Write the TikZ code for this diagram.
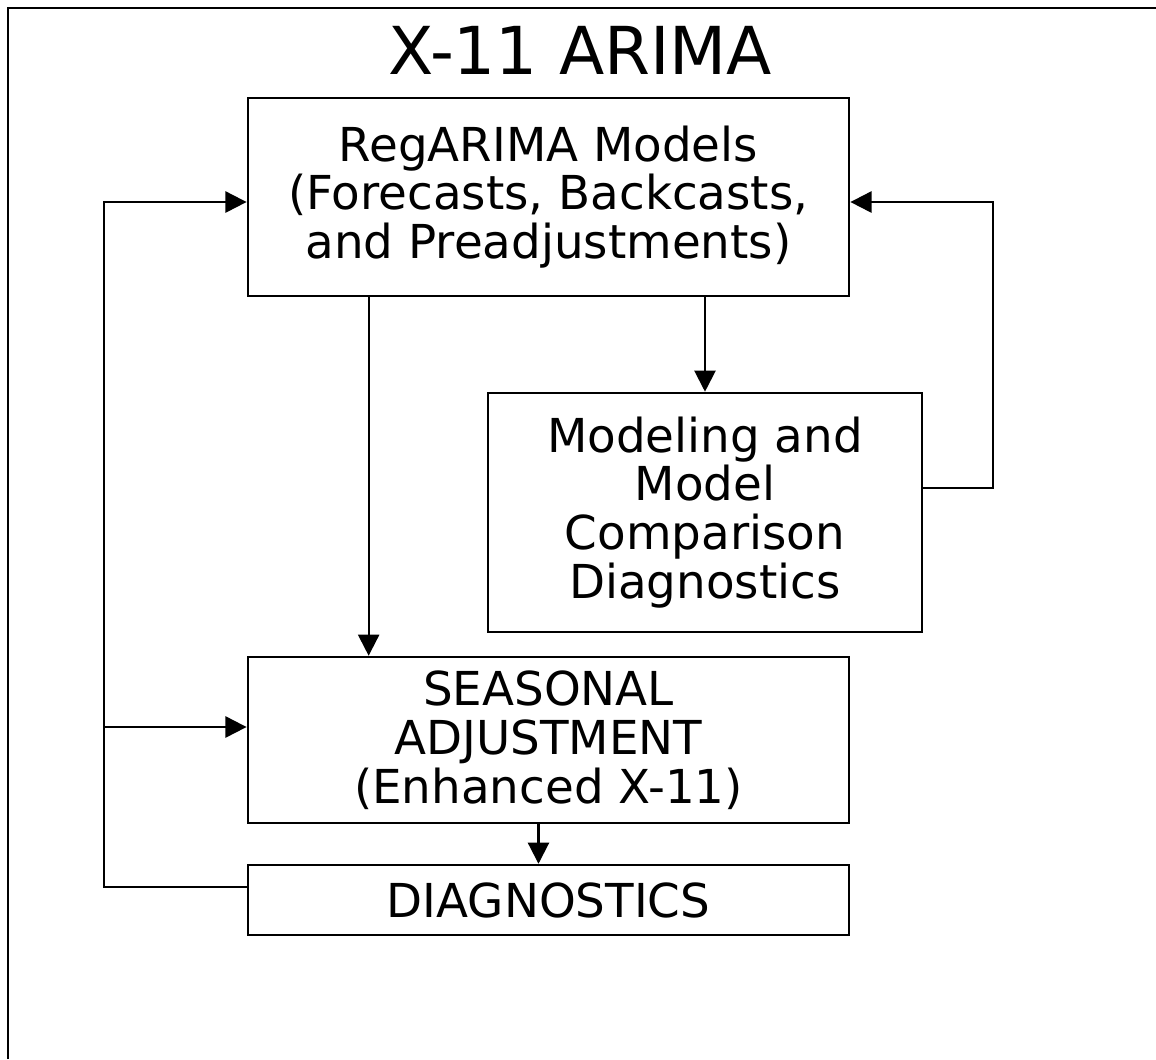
\documentclass[tikz,border=0pt]{standalone}
\usepackage{fontspec}
\setmainfont{DejaVu Sans}
\usetikzlibrary{arrows.meta}
\begin{document}
\begin{tikzpicture}[x=0.01cm,y=-0.01cm,>={Triangle[length=6pt,width=6pt]},
  box/.style={draw,line width=0.7pt,align=center,inner sep=0pt,
    font=\fontsize{13.3}{13.9}\selectfont},
  link/.style={line width=0.6pt}]
  \useasboundingbox (0,0) rectangle (1156,1059);
  \draw[line width=0.8pt] (8,1059) -- (8,8) -- (1156,8);

  \node (title) at (580,50) {\fontsize{18.8}{20}\selectfont X-11 ARIMA};

  \node[box,minimum width=6.01cm,minimum height=1.98cm] (reg) at (548.5,197)
    {RegARIMA Models\\(Forecasts, Backcasts,\\and Preadjustments)};
  \node[box,minimum width=4.34cm,minimum height=2.39cm] (mod) at (705,512.5)
    {Modeling and\\Model\\Comparison\\Diagnostics};
  \node[box,minimum width=6.01cm,minimum height=1.66cm] (seas) at (548.5,740)
    {SEASONAL\\ADJUSTMENT\\(Enhanced X-11)};
  \node[box,minimum width=6.01cm,minimum height=0.7cm] (diag) at (548.5,900)
    {DIAGNOSTICS};

  \coordinate (rloop) at (993,202);
  \coordinate (lloop) at (104,202);
  \coordinate (seasin) at ([yshift=0.13cm]seas.west);

  \draw[link,->] ([xshift=1.22cm]reg.south west) -- ([xshift=1.22cm]seas.north west);
  \draw[link,->] (reg.south -| mod.north) -- (mod.north);
  \draw[link,->] ([xshift=-0.1cm]seas.south) -- ([xshift=-0.1cm]diag.north);
  \draw[link,->] ([yshift=0.245cm]mod.east) -| (rloop) -- (reg.east |- rloop);
  \draw[link,->] ([yshift=0.13cm]diag.west) -| (lloop) -- (reg.west |- lloop);
  \draw[link,->] (lloop |- seasin) -- (seasin);
\end{tikzpicture}
\end{document}
